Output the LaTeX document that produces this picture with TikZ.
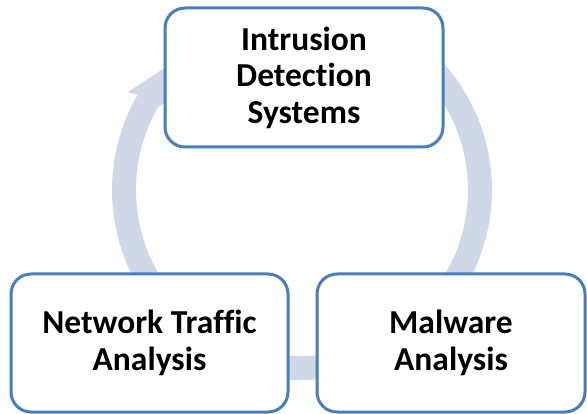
\documentclass[tikz,border=0pt]{standalone}
\usepackage{fontspec}
\setmainfont[Ligatures={NoCommon}]{Carlito}
\usetikzlibrary{calc}
\definecolor{ringc}{RGB}{208,216,232}
\definecolor{boxc}{RGB}{74,126,187}
\begin{document}
\begin{tikzpicture}[x=1pt,y=1pt,
  stagebox/.style={draw=boxc, line width=3pt, fill=white, rounded corners=20pt,
    align=center, font=\fontsize{33.5}{36.5}\selectfont\bfseries, inner sep=0pt}]
\useasboundingbox (0,0) rectangle (587,413);
\coordinate (C) at (302,223);
\coordinate (A) at (128,321);
\coordinate (B) at (198,331);
\coordinate (T) at (218,380);
% circular arrow
\fill[ringc] ($(C)+(70:190)$) arc[start angle=70, end angle=-210, radius=190]
  -- (A) -- (T) -- (B) -- ($(C)+(150:166)$)
  arc[start angle=-210, end angle=70, radius=166] -- cycle;
% boxes
\node[stagebox, minimum width=278pt, minimum height=139pt] (ids) at (304,335.5)
  {Intrusion\\Detection\\Systems};
\node[stagebox, minimum width=277pt, minimum height=138pt] (nta) at (149.5,70)
  {Network Traffic\\Analysis};
\node[stagebox, minimum width=268pt, minimum height=138pt] (mal) at (451,70)
  {Malware\\Analysis};
\end{tikzpicture}
\end{document}
